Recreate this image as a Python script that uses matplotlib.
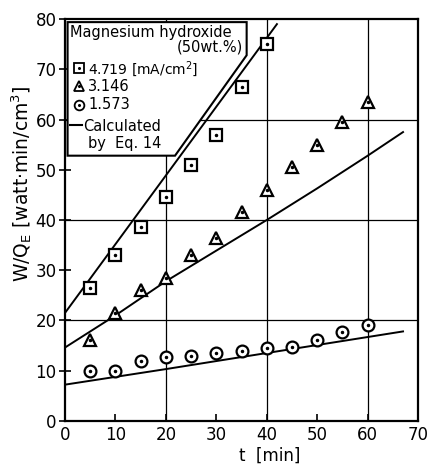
import numpy as np
import matplotlib
matplotlib.use("Agg")
import matplotlib.pyplot as plt
from matplotlib.patches import Polygon

t_sq = [5, 10, 15, 20, 25, 30, 35, 40]
w_sq = [26.5, 33.0, 38.5, 44.5, 51.0, 57.0, 66.5, 75.0]

t_tri = [5, 10, 15, 20, 25, 30, 35, 40, 45, 50, 55, 60]
w_tri = [16.0, 21.5, 26.0, 28.5, 33.0, 36.5, 41.5, 46.0, 50.5, 55.0, 59.5, 63.5]

t_circ = [5, 10, 15, 20, 25, 30, 35, 40, 45, 50, 55, 60]
w_circ = [10.0, 10.0, 11.9, 12.8, 12.9, 13.6, 13.9, 14.4, 14.7, 16.0, 17.7, 19.1]

# ── calculated curves (Eq. 14) ──────────────────────────────────────────────────
t_c1 = [0, 42]
w_c1 = [21.5, 79.0]
t_c2 = [0, 10, 20, 30, 40, 50, 60, 67]
w_c2 = [14.6, 21.0, 27.8, 33.9, 40.0, 46.3, 52.8, 57.5]
t_c3 = [0, 20, 40, 67]
w_c3 = [7.2, 10.3, 13.5, 17.8]

plt.rcParams["font.family"] = ["DejaVu Sans"]

fig = plt.figure(figsize=(4.28, 4.66), dpi=100)
ax = fig.add_axes([0.152, 0.097, 0.825, 0.862])

for v in (20, 40, 60):
    ax.axvline(v, color="k", lw=0.9, zorder=1)
    ax.axhline(v, color="k", lw=0.9, zorder=1)

for t, w in ((t_c1, w_c1), (t_c2, w_c2), (t_c3, w_c3)):
    ax.plot(t, w, "-", color="k", lw=1.4, zorder=2)

mk = dict(linestyle="none", mfc="white", mec="k", mew=1.6, ms=8.5, zorder=3)
ax.plot(t_sq, w_sq, marker="s", **mk)
ax.plot(t_tri, w_tri, marker="^", **mk)
ax.plot(t_circ, w_circ, marker="o", **mk)
for t, w in ((t_sq, w_sq), (t_tri, w_tri), (t_circ, w_circ)):
    ax.plot(t, w, "o", color="k", ms=1.5, zorder=4)

# legend box with cut corner
box = Polygon([(0.5, 79.4), (36.0, 79.4), (36.0, 72.8), (21.8, 52.8), (0.5, 52.8)],
              closed=True, fc="white", ec="k", lw=1.5, zorder=5)
ax.add_patch(box)
fs = 10.5
ax.text(1.0, 77.4, "Magnesium hydroxide", fontsize=fs, va="center", zorder=6)
ax.text(35.3, 74.4, "(50wt.%)", fontsize=fs, va="center", ha="right", zorder=6)
leg_y = [70.2, 66.6, 62.9]
lmk = dict(mk, zorder=6, ms=7, mew=1.3)
ax.plot([2.8], [leg_y[0]], marker="s", **lmk)
ax.plot([2.8], [leg_y[1]], marker="^", **lmk)
ax.plot([2.8], [leg_y[2]], marker="o", **lmk)
ax.plot([2.8] * 3, leg_y, "o", color="k", ms=1.2, zorder=7)
ax.text(4.6, leg_y[0] - 0.2, "4.719 [mA/cm$^2$]", fontsize=10, va="center", zorder=6)
ax.text(4.6, leg_y[1], "3.146", fontsize=fs, va="center", zorder=6)
ax.text(4.6, leg_y[2], "1.573", fontsize=fs, va="center", zorder=6)
ax.plot([1.0, 3.4], [58.9, 58.9], "-", color="k", lw=1.5, zorder=6)
ax.text(3.6, 58.7, "Calculated", fontsize=fs, va="center", zorder=6)
ax.text(4.6, 55.2, "by  Eq. 14", fontsize=fs, va="center", zorder=6)

ax.set_xlim(0, 70)
ax.set_ylim(0, 80)
ax.set_xticks(np.arange(0, 71, 10))
ax.set_yticks(np.arange(0, 81, 10))
ax.tick_params(axis="x", direction="in", length=5, width=1.2, labelsize=12, pad=4)
ax.tick_params(axis="y", direction="inout", length=8, width=1.2, labelsize=12, pad=2)
for s in ax.spines.values():
    s.set_linewidth(1.6)

ax.set_xlabel("t  [min]", fontsize=12, labelpad=2)
ax.xaxis.label.set_x(0.58)
ax.set_ylabel("W/Q$_\\mathrm{E}$ [watt·min/cm$^3$]", fontsize=13.5, labelpad=1)
ax.yaxis.label.set_y(0.59)

fig.savefig("out.png", dpi=100)
